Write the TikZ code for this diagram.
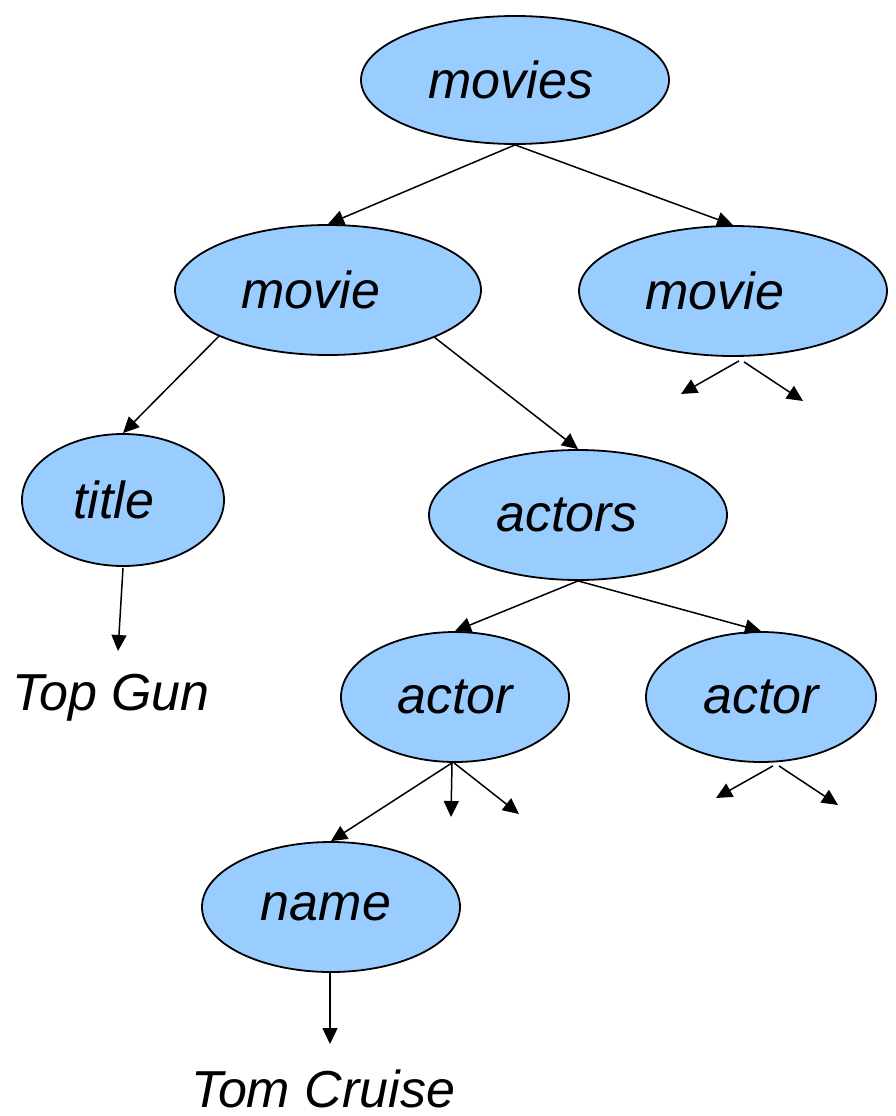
\documentclass[tikz,border=0pt]{standalone}
\usepackage{fontspec}
\setmainfont{Liberation Sans}
\usetikzlibrary{shapes.geometric,arrows.meta}
\definecolor{nodeblue}{HTML}{99CCFF}
\tikzset{
  elnode/.style={ellipse, draw=black, line width=1.8pt, fill=nodeblue, inner sep=0pt,
    font=\fontsize{52}{60}\selectfont\itshape},
  leaf/.style={inner sep=0pt, font=\fontsize{52}{60}\selectfont\itshape, anchor=base},
  arr/.style={line width=1.5pt, -{Triangle[length=16pt,width=15pt]}}
}
\begin{document}
\begin{tikzpicture}[x=1pt,y=-1pt]
\useasboundingbox (0,0) rectangle (896,1116);
\node[elnode, minimum width=308pt, minimum height=128pt] (movies) at (515,80) {movies\kern8pt};
\node[elnode, minimum width=306pt, minimum height=130pt] (movieL) at (328,290) {movie\kern34pt};
\node[elnode, minimum width=308pt, minimum height=130pt] (movieR) at (733,291) {movie\kern36pt};
\node[elnode, minimum width=202pt, minimum height=132pt] (title) at (123,500) {title\kern18pt};
\node[elnode, minimum width=298pt, minimum height=130pt] (actors) at (578,515) {actors\kern22pt};
\node[elnode, minimum width=228pt, minimum height=130pt] (actorL) at (455,697) {actor};
\node[elnode, minimum width=230pt, minimum height=130pt] (actorR) at (761,697) {actor};
\node[elnode, minimum width=258pt, minimum height=130pt] (name) at (331,907) {name\kern10pt};
\node[leaf] (topgun) at (111,710) {Top Gun};
\node[leaf] (tomcruise) at (323,1107) {Tom Cruise};

\coordinate (tgtip) at (118,651);
\coordinate (tctip) at (330,1044);
\coordinate (mr1) at (681,394);
\coordinate (mr2) at (803,401);
\coordinate (al2) at (451,817);
\coordinate (al3) at (519,814);
\coordinate (ar1) at (716,798);
\coordinate (ar2) at (838,805);

\draw[arr] (movies.south) -- (movieL.north);
\draw[arr] (movies.south) -- (movieR.north);
\draw[arr] (movieL.203) -- (title.north);
\draw[arr] (movieL.336) -- (actors.north);
\draw[arr] ([shift={(6pt,-4pt)}]movieR.south) -- (mr1);
\draw[arr] ([shift={(11pt,-5pt)}]movieR.south) -- (mr2);
\draw[arr] ([yshift=-1pt]title.south) -- (tgtip);
\draw[arr] (actors.south) -- (actorL.north);
\draw[arr] (actors.south) -- (actorR.north);
\draw[arr] ([xshift=-3pt]actorL.south) -- (name.north);
\draw[arr] ([xshift=-3pt]actorL.south) -- (al2);
\draw[arr] ([xshift=-1pt]actorL.south) -- (al3);
\draw[arr] ([shift={(12pt,-3pt)}]actorR.south) -- (ar1);
\draw[arr] ([shift={(18pt,-3pt)}]actorR.south) -- (ar2);
\draw[arr] ([xshift=-1pt]name.south) -- (tctip);
\end{tikzpicture}
\end{document}
